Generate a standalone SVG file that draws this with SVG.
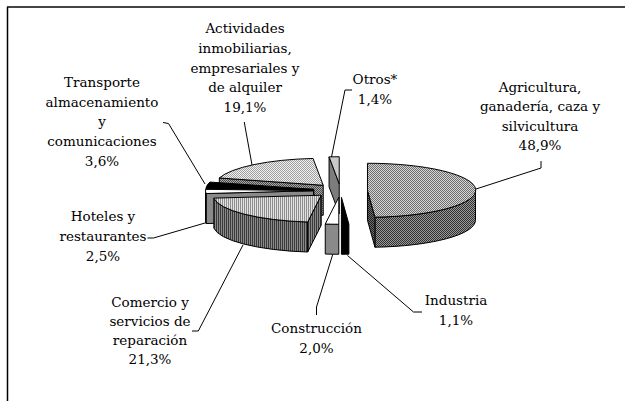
<svg xmlns="http://www.w3.org/2000/svg" width="625" height="401" viewBox="0 0 625 401">
<style>
  text { font-family: "DejaVu Serif", "Liberation Serif", serif; font-size: 13.5px; fill: #000; text-anchor: middle; }
  .f { stroke: #000; stroke-width: 1; stroke-linejoin: round; }
  .lead { fill: none; stroke: #000; stroke-width: 1; }
</style>
<defs>
  <pattern id="pAgriTop" width="2" height="2" patternUnits="userSpaceOnUse">
    <rect width="2" height="2" fill="#d6d6d6"/><rect width="1" height="1" fill="#6e6e6e"/><rect x="1" y="1" width="1" height="1" fill="#6e6e6e"/>
  </pattern>
  <pattern id="pAgriSide" width="2" height="2" patternUnits="userSpaceOnUse">
    <rect width="2" height="2" fill="#9a9a9a"/><rect width="1" height="1" fill="#303030"/><rect x="1" y="1" width="1" height="1" fill="#303030"/>
  </pattern>
  <pattern id="pAgriEnd" width="2" height="2" patternUnits="userSpaceOnUse">
    <rect width="2" height="2" fill="#707070"/><rect width="1" height="1" fill="#1a1a1a"/><rect x="1" y="1" width="1" height="1" fill="#1a1a1a"/>
  </pattern>
  <pattern id="pComTop" width="2" height="2" patternUnits="userSpaceOnUse">
    <rect width="2" height="2" fill="#e2e2e2"/><rect width="1" height="2" fill="#8e8e8e"/>
  </pattern>
  <pattern id="pComSide" width="2" height="2" patternUnits="userSpaceOnUse">
    <rect width="2" height="2" fill="#8a8a8a"/><rect width="1" height="2" fill="#3a3a3a"/>
  </pattern>
  <pattern id="pActTop" width="2" height="2" patternUnits="userSpaceOnUse">
    <rect width="2" height="2" fill="#f0f0f0"/><rect width="1" height="1" fill="#a0a0a0"/><rect x="1" y="1" width="1" height="1" fill="#a0a0a0"/>
  </pattern>
  <pattern id="pActSide" width="2" height="2" patternUnits="userSpaceOnUse">
    <rect width="2" height="2" fill="#a8a8a8"/><rect width="1" height="1" fill="#4a4a4a"/><rect x="1" y="1" width="1" height="1" fill="#4a4a4a"/>
  </pattern>
</defs>
<rect width="625" height="401" fill="#fff"/>
<rect x="7" y="6" width="618" height="2" fill="#444"/>
<line x1="7.5" y1="7" x2="7.5" y2="401" stroke="#000" stroke-width="1.5"/>

<g id="slice-otros">
  <path class="f" fill="#7c7c7c" d="M339.23,183.76 L329.07,156.88 L329.07,186.88 L339.23,213.76 Z"/>
  <path class="f" fill="#c8c8c8" d="M339.23,183.76 L329.07,156.88 A108,27 0 0 1 339.23,156.76 Z"/>
</g>
<g id="slice-actividades">
  <path class="f" fill="url(#pActSide)" d="M323.22,185.31 L219.30,177.96 L219.30,207.96 L323.22,215.31 Z"/>
  <path class="f" fill="url(#pActTop)" d="M323.22,185.31 L219.30,177.96 A108,27 0 0 1 313.06,158.43 Z"/>
</g>
<g id="slice-transporte">
  <path class="f" fill="#000" d="M313.86,189.40 L206.0,188.03 L206.0,218.03 L313.86,219.40 Z"/>
  <path class="f" fill="#000" d="M313.86,189.40 L206.0,188.03 A108,27 0 0 1 209.94,182.05 Z"/>
</g>
<g id="slice-hoteles">
  <path class="f" fill="#8a8a8a" d="M313.51,190.69 L206.12,193.56 L206.12,223.56 L313.51,220.69 Z"/>
  <path class="f" fill="#8a8a8a" d="M206.12,193.56 A108,27 0 0 1 205.51,190.69 L205.51,220.69 A108,27 0 0 0 206.12,223.56 Z"/>
  <path class="f" fill="#fff" d="M313.51,190.69 L206.12,193.56 A108,27 0 0 1 205.65,189.32 Z"/>
</g>
<g id="slice-comercio">
  <path class="f" fill="url(#pComSide)" d="M307.69,222.02 A108,27 0 0 1 213.84,198.10 L213.84,228.10 A108,27 0 0 0 307.69,252.02 Z"/>
  <path class="f" fill="url(#pComSide)" d="M321.23,195.23 L307.69,222.02 L307.69,252.02 L321.23,225.23 Z"/>
  <path class="f" fill="url(#pComTop)" d="M321.23,195.23 L307.69,222.02 A108,27 0 0 1 213.84,198.10 Z"/>
</g>
<g id="slice-agricultura">
  <path class="f" fill="url(#pAgriSide)" d="M475.48,190.27 A108,27 0 0 1 374.94,217.21 L374.94,247.21 A108,27 0 0 0 475.48,220.27 Z"/>
  <path class="f" fill="url(#pAgriEnd)" d="M367.48,190.27 L374.94,217.21 L374.94,247.21 L367.48,220.27 Z"/>
  <path class="f" fill="url(#pAgriTop)" d="M367.48,190.27 L367.48,163.27 A108,27 0 0 1 374.94,217.21 Z"/>
</g>
<g id="slice-construccion">
  <path class="f" fill="#8a8a8a" d="M338.8,224.24 A108,27 0 0 1 325.26,224.03 L325.26,254.03 A108,27 0 0 0 338.8,254.24 Z"/>
  <path class="f" fill="#fff" d="M338.8,197.24 L338.8,224.24 A108,27 0 0 1 325.26,224.03 Z"/>
</g>
<g id="slice-industria">
  <path class="f" fill="#000" d="M348.89,224.19 A108,27 0 0 1 341.43,224.25 L341.43,254.25 A108,27 0 0 0 348.89,254.19 Z"/>
  <path class="f" fill="#000" d="M341.43,197.25 L348.89,224.19 A108,27 0 0 1 341.43,224.25 Z"/>
</g>

<g id="connectors">
  <polyline class="lead" points="244.3,122 245.3,128 252,165"/>
  <polyline class="lead" points="352,90 345,90 331.5,157"/>
  <polyline class="lead" points="541,161 541,168 476,189"/>
  <polyline class="lead" points="163,122.5 168.5,123.5 205,184"/>
  <polyline class="lead" points="147.5,238 153.5,238 205,223"/>
  <polyline class="lead" points="192,331 198.3,331 243,245"/>
  <polyline class="lead" points="316.5,315 316.5,307 332.7,254.5"/>
  <polyline class="lead" points="422,312 413.5,312 347.5,255.5"/>
</g>

<g id="label-actividades">
  <text x="245" y="33">Actividades</text>
  <text x="245" y="52.75">inmobiliarias,</text>
  <text x="245" y="72.5">empresariales y</text>
  <text x="245" y="92.25">de alquiler</text>
  <text x="245" y="112">19,1%</text>
</g>
<g id="label-otros">
  <text x="375" y="84">Otros*</text>
  <text x="375" y="104">1,4%</text>
</g>
<g id="label-agricultura">
  <text x="540" y="91.5">Agricultura,</text>
  <text x="540" y="111">ganadería, caza y</text>
  <text x="540" y="130.5">silvicultura</text>
  <text x="540" y="150">48,9%</text>
</g>
<g id="label-transporte">
  <text x="102" y="87">Transporte</text>
  <text x="102" y="106.5">almacenamiento</text>
  <text x="102" y="126">y</text>
  <text x="102" y="146">comunicaciones</text>
  <text x="102" y="166">3,6%</text>
</g>
<g id="label-hoteles">
  <text x="103" y="221">Hoteles y</text>
  <text x="103" y="241">restaurantes</text>
  <text x="103" y="261">2,5%</text>
</g>
<g id="label-comercio">
  <text x="150" y="307">Comercio y</text>
  <text x="150" y="326">servicios de</text>
  <text x="150" y="345">reparación</text>
  <text x="150" y="364">21,3%</text>
</g>
<g id="label-construccion">
  <text x="316.5" y="333">Construcción</text>
  <text x="316.5" y="353">2,0%</text>
</g>
<g id="label-industria">
  <text x="456" y="305">Industria</text>
  <text x="456" y="325">1,1%</text>
</g>
</svg>
